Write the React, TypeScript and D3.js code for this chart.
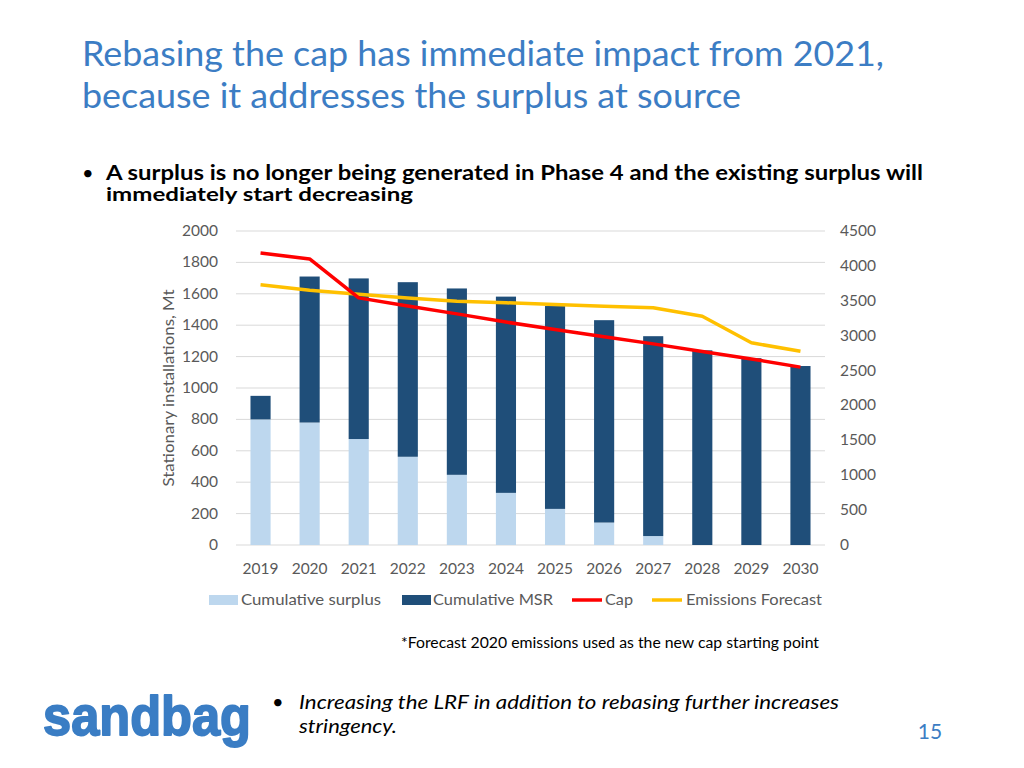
import React from "react";
import * as d3 from "d3";

const years = ["2019","2020","2021","2022","2023","2024","2025","2026","2027","2028","2029","2030"];
const cumulativeSurplus = [800, 780, 675, 562, 447, 332, 230, 143, 57, 0, 0, 0];
const cumulativeMSR = [150, 930, 1023, 1112, 1187, 1250, 1292, 1289, 1273, 1240, 1190, 1140];
const cap = [1860, 1822, 1574, 1522, 1472, 1420, 1372, 1326, 1281, 1232, 1185, 1133];
const emissionsForecast = [1658, 1623, 1597, 1574, 1553, 1543, 1532, 1520, 1511, 1457, 1288, 1234];
const leftTicks = [0, 200, 400, 600, 800, 1000, 1200, 1400, 1600, 1800, 2000];
const rightTicks = [0, 500, 1000, 1500, 2000, 2500, 3000, 3500, 4000, 4500];

const FONT = "Lato, 'Open Sans', sans-serif";
const BLUE_TITLE = "#3C7DC4";
const LIGHT = "#BDD7EE";
const DARK = "#1F4E79";
const RED = "#FF0000";
const YELLOW = "#FFC000";
const GRAY = "#595959";
const TICK = 15.5;

export default function App() {
  const x = d3.scaleBand<string>().domain(years).range([236, 825]).paddingInner(0.59).paddingOuter(0.295);
  const yL = d3.scaleLinear().domain([0, 2000]).range([545, 231]);
  const yR = d3.scaleLinear().domain([0, 4500]).range([545, 231]);
  const cx = (y: string) => (x(y) as number) + x.bandwidth() / 2;
  const line = d3.line<number>().x((_, i) => cx(years[i])).y((d) => yL(d));

  return (
    <svg width={1024} height={768} style={{ position: "absolute", left: 0, top: 0, background: "#fff" }} fontFamily={FONT}>
      <rect width={1024} height={768} fill="#fff" />
      {/* Title */}
      <text x={82} y={66} fontSize={34} fill={BLUE_TITLE} textLength={802} lengthAdjust="spacingAndGlyphs">Rebasing the cap has immediate impact from 2021,</text>
      <text x={82} y={108} fontSize={34} fill={BLUE_TITLE} textLength={659} lengthAdjust="spacingAndGlyphs">because it addresses the surplus at source</text>
      {/* Bullet */}
      <text x={82} y={180} fontSize={20} fill="#000">•</text>
      <text x={106} y={180} fontSize={20} fontWeight="bold" fill="#000" textLength={817} lengthAdjust="spacingAndGlyphs">A surplus is no longer being generated in Phase 4 and the existing surplus will</text>
      <text x={106} y={201} fontSize={19} fontWeight="bold" fill="#000" textLength={307} lengthAdjust="spacingAndGlyphs">immediately start decreasing</text>

      {/* Gridlines */}
      {leftTicks.map((t) => (
        <line key={"g" + t} x1={236} x2={825} y1={yL(t)} y2={yL(t)} stroke="#D9D9D9" strokeWidth={1} />
      ))}
      {/* Left tick labels */}
      {leftTicks.map((t) => (
        <text key={"l" + t} x={218} y={yL(t) + 5} fontSize={TICK} fill={GRAY} textAnchor="end">{t}</text>
      ))}
      {/* Right tick labels */}
      {rightTicks.map((t) => (
        <text key={"r" + t} x={840} y={yR(t) + 5} fontSize={TICK} fill={GRAY} textAnchor="start">{t}</text>
      ))}
      {/* Y axis title */}
      <text transform="translate(174,388) rotate(-90)" fontSize={15} fill={GRAY} textAnchor="middle" textLength={197} lengthAdjust="spacingAndGlyphs">Stationary installations, Mt</text>

      {/* Bars */}
      {years.map((yr, i) => {
        const s = cumulativeSurplus[i];
        const m = cumulativeMSR[i];
        return (
          <g key={yr}>
            <rect x={x(yr)} width={x.bandwidth()} y={yL(s)} height={yL(0) - yL(s)} fill={LIGHT} />
            <rect x={x(yr)} width={x.bandwidth()} y={yL(s + m)} height={yL(s) - yL(s + m)} fill={DARK} />
          </g>
        );
      })}
      {/* Lines */}
      <path d={line(emissionsForecast) || ""} fill="none" stroke={YELLOW} strokeWidth={3.5} strokeLinejoin="round" />
      <path d={line(cap) || ""} fill="none" stroke={RED} strokeWidth={3.5} strokeLinejoin="round" />

      {/* X labels */}
      {years.map((yr) => (
        <text key={"x" + yr} x={cx(yr)} y={574} fontSize={TICK} fill={GRAY} textAnchor="middle">{yr}</text>
      ))}

      {/* Legend */}
      <rect x={209} y={595} width={29} height={10} fill={LIGHT} />
      <text x={241} y={605} fontSize={15} fill={GRAY} textLength={140} lengthAdjust="spacingAndGlyphs">Cumulative surplus</text>
      <rect x={402} y={595} width={29} height={10} fill={DARK} />
      <text x={433} y={605} fontSize={15} fill={GRAY} textLength={120} lengthAdjust="spacingAndGlyphs">Cumulative MSR</text>
      <line x1={572} x2={602} y1={600} y2={600} stroke={RED} strokeWidth={3.5} />
      <text x={605} y={605} fontSize={15} fill={GRAY} textLength={28} lengthAdjust="spacingAndGlyphs">Cap</text>
      <line x1={652} x2={682} y1={600} y2={600} stroke={YELLOW} strokeWidth={3.5} />
      <text x={686} y={605} fontSize={15} fill={GRAY} textLength={136} lengthAdjust="spacingAndGlyphs">Emissions Forecast</text>

      {/* Footnote */}
      <text x={401} y={648} fontSize={14.5} fill="#000" textLength={418} lengthAdjust="spacingAndGlyphs">*Forecast 2020 emissions used as the new cap starting point</text>

      {/* Logo */}
      <text x={43} y={735} fontSize={56} fontWeight="bold" fill="#3A7DC4" stroke="#3A7DC4" strokeWidth={1.8} strokeLinejoin="round" fontFamily="'Liberation Sans', Arial, sans-serif" textLength={208} lengthAdjust="spacingAndGlyphs">sandbag</text>

      {/* Bottom bullet */}
      <text x={272} y={709} fontSize={20} fill="#000">•</text>
      <text x={299} y={709} fontSize={20} fontStyle="italic" fill="#000" textLength={540} lengthAdjust="spacingAndGlyphs">Increasing the LRF in addition to rebasing further increases</text>
      <text x={299} y={733} fontSize={20} fontStyle="italic" fill="#000" textLength={98} lengthAdjust="spacingAndGlyphs">stringency.</text>

      {/* Page number */}
      <text x={930} y={739} fontSize={21} fill={BLUE_TITLE} textAnchor="middle">15</text>
    </svg>
  );
}
